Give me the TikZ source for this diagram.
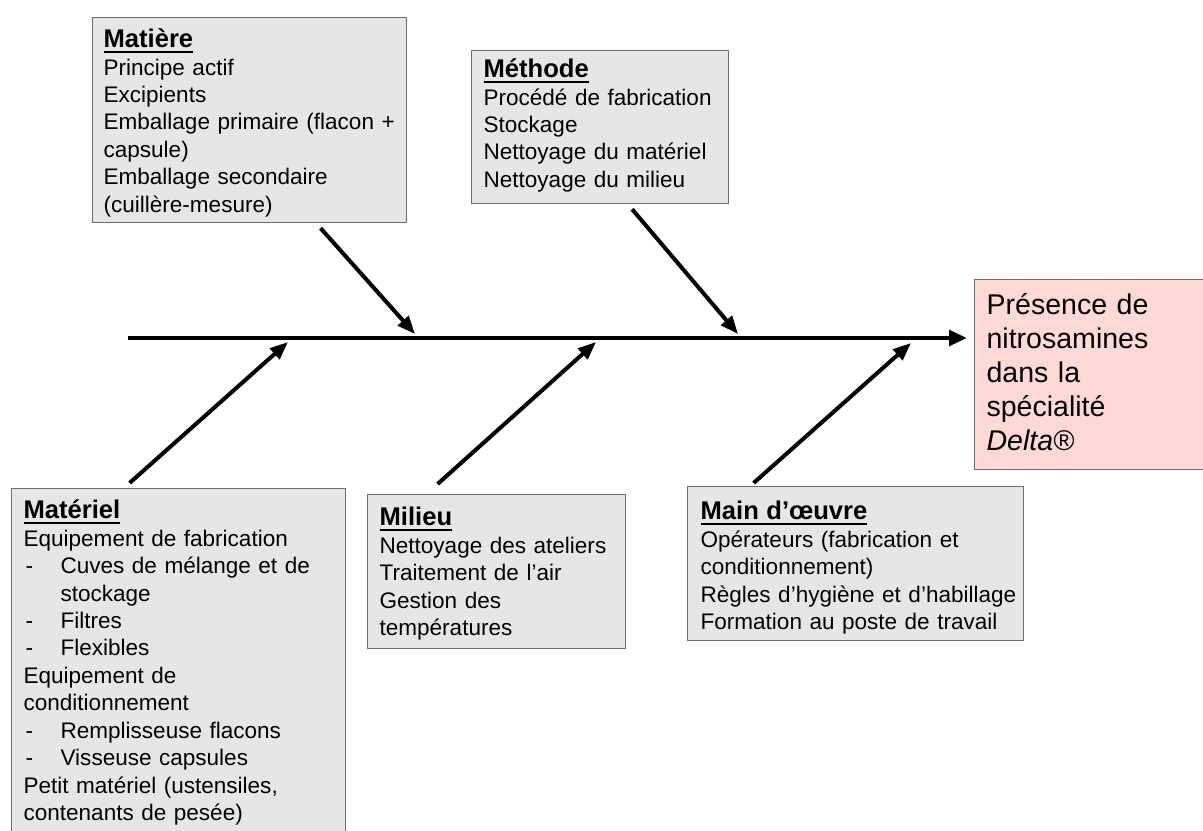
\documentclass[tikz,border=0pt]{standalone}
\usepackage{fontspec}
\setmainfont{Liberation Sans}
\usetikzlibrary{arrows.meta,calc}

\definecolor{boxgray}{HTML}{E6E6E6}
\definecolor{boxline}{HTML}{6E6E6E}
\definecolor{effectpink}{HTML}{FFD9D6}

\newsavebox{\headbox}
\newcommand{\headline}[1]{%
  \sbox{\headbox}{\fontsize{19.2}{20.6}\selectfont\bfseries #1}%
  \usebox{\headbox}\llap{\rule[-3.8pt]{\wd\headbox}{1.6pt}}}
\newcommand{\dashitem}{\makebox[27.75pt][l]{\hspace{1.5pt}-}}

\begin{document}
\begin{tikzpicture}[x=0.75pt,y=-0.75pt,
  causebox/.style={draw=boxline,line width=0.9pt,fill=boxgray,anchor=north west,
    align=left,inner ysep=0pt,font={\fontsize{16.9}{20.6}\selectfont}},
  effectbox/.style={draw=boxline,line width=0.9pt,fill=effectpink,anchor=north west,
    align=left,inner ysep=0pt,font={\fontsize{21.4}{25.5}\selectfont}},
  branch/.style={line width=3pt,-{Triangle[length=13.5pt,width=10.5pt]}},
  spine/.style={line width=3.6pt,-{Triangle[length=13.5pt,width=11.5pt]}}]
  \useasboundingbox (0,0) rectangle (1203,831);

  % Effect
  \node[effectbox,text width=159pt,inner xsep=9pt,text height=26.25pt,text depth=116.25pt]
    (res) at (974,279) {Présence de\\ nitrosamines\\ dans la\\ spécialité\\ \textit{Delta®}};

  % Causes above the spine
  \node[causebox,text width=219pt,inner xsep=8.25pt,text height=22.5pt,text depth=131.25pt]
    (mat) at (92,17) {\headline{Matière}\\
      Principe actif\\
      Excipients\\
      \mbox{Emballage primaire (flacon +}\\
      capsule)\\
      Emballage secondaire\\
      (cuillère-mesure)};
  \node[causebox,text width=174.75pt,inner xsep=9pt,text height=20.25pt,text depth=94.5pt]
    (met) at (471,50) {\headline{Méthode}\\
      \mbox{Procédé de fabrication}\\
      Stockage\\
      Nettoyage du matériel\\
      Nettoyage du milieu};

  % Causes below the spine
  \node[causebox,text width=232.5pt,inner xsep=9pt,text height=22.5pt,text depth=264pt]
    (matl) at (11,488) {\headline{Matériel}\\
      Equipement de fabrication\\
      \dashitem \mbox{Cuves de mélange et de}\\
      \hspace*{27.75pt}stockage\\
      \dashitem Filtres\\
      \dashitem Flexibles\\
      Equipement de\\
      conditionnement\\
      \dashitem Remplisseuse flacons\\
      \dashitem Visseuse capsules\\
      Petit matériel (ustensiles,\\
      contenants de pesée)};
  \node[causebox,text width=175.5pt,inner xsep=9pt,text height=23.25pt,text depth=92.25pt]
    (mil) at (367,494) {\headline{Milieu}\\
      \mbox{Nettoyage des ateliers}\\
      Traitement de l’air\\
      Gestion des\\
      températures};
  \node[causebox,text width=232.5pt,inner xsep=9.75pt,text height=24.75pt,text depth=90.75pt]
    (mo) at (687,486) {\headline{Main d’œuvre}\\
      Opérateurs (fabrication et\\
      conditionnement)\\
      \mbox{Règles d’hygiène et d’habillage}\\
      Formation au poste de travail};

  % Spine and joints
  \coordinate (tail) at (128,338);
  \coordinate (jMat) at (415,334);
  \coordinate (jMet) at (738,334);
  \coordinate (jMatl) at (288,342);
  \coordinate (jMil) at (596,342);
  \coordinate (jMo) at (911,343);
  \draw[spine,shorten >=5.25pt] (tail) -- (res.west |- tail);

  % Branches
  \draw[branch] ($(mat.south)+(71,5)$) -- (jMat);
  \draw[branch] ($(met.south)+(32,5)$) -- (jMet);
  \draw[branch] ($(matl.north)+(-49,-5)$) -- (jMatl);
  \draw[branch] ($(mil.north)+(-59,-10)$) -- (jMil);
  \draw[branch] ($(mo.north)+(-102,-3)$) -- (jMo);
\end{tikzpicture}
\end{document}
